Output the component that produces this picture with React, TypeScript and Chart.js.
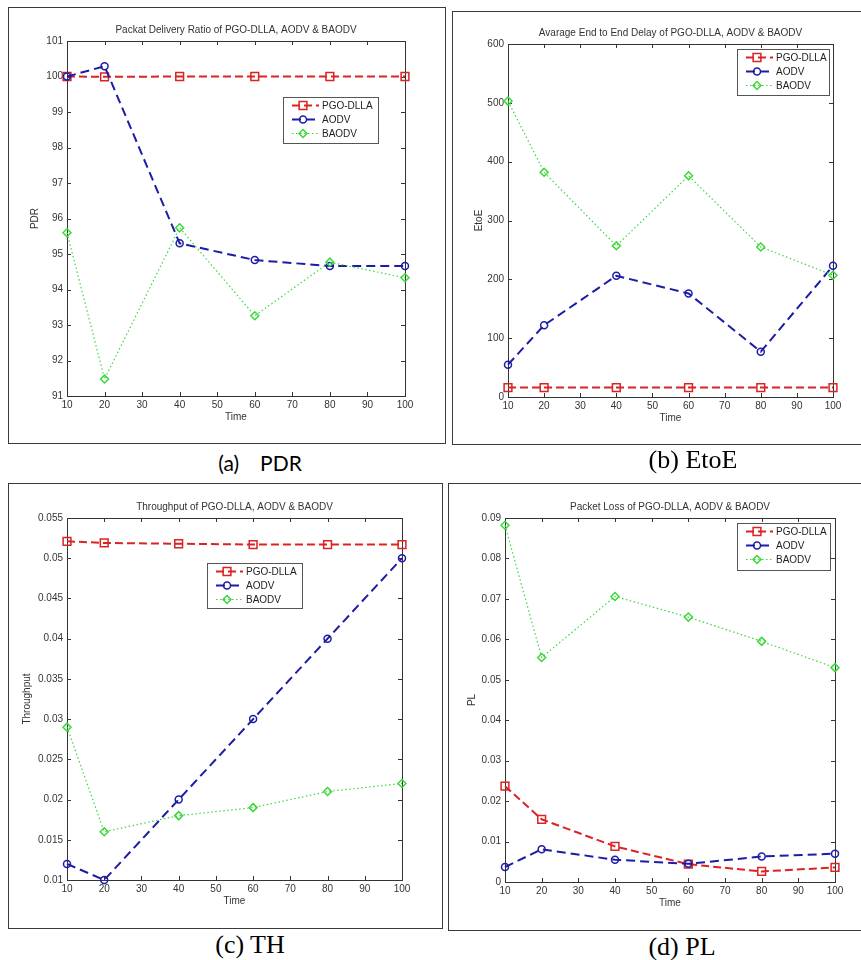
import React, { useEffect, useRef } from "react";
import { Chart, registerables } from "chart.js";

Chart.register(...registerables);

// ---------- data ----------
const timeValues = [10, 20, 40, 60, 80, 100];
const seriesNames = ["PGO-DLLA", "AODV", "BAODV"];

const pdrPGO = [100, 99.99, 100, 100, 100, 100];
const pdrAODV = [100, 100.29, 95.3, 94.83, 94.66, 94.66];
const pdrBAODV = [95.6, 91.48, 95.74, 93.26, 94.77, 94.33];

const etoePGO = [16, 16, 16, 16, 16, 16];
const etoeAODV = [55, 122, 206, 176, 77, 223];
const etoeBAODV = [503, 382, 257, 376, 255, 207];

const thPGO = [0.0521, 0.0519, 0.0518, 0.0517, 0.0517, 0.0517];
const thAODV = [0.012, 0.01, 0.02, 0.03, 0.04, 0.05];
const thBAODV = [0.029, 0.016, 0.018, 0.019, 0.021, 0.022];

const plPGO = [0.0237, 0.0155, 0.0088, 0.0044, 0.0026, 0.0036];
const plAODV = [0.0037, 0.0081, 0.0055, 0.0045, 0.0063, 0.007];
const plBAODV = [0.0882, 0.0555, 0.0706, 0.0655, 0.0595, 0.053];

// ---------- styles ----------
const RED = "#dc2222";
const BLUE = "#1c1ca6";
const GREEN = "#3ad83a";
const AXIS_FONT = "'Liberation Sans', Arial, sans-serif";

type Rect = { l: number; t: number; r: number; b: number };
type PanelSpec = {
  id: string;
  box: Rect;
  plot: Rect;
  legend: Rect;
  title: string;
  yLabel: string;
  yLabelOffset: number;
  yMin: number;
  yMax: number;
  yStep: number;
  series: number[][];
  caption: string;
  captionX: number;
  captionY: number;
  captionFont: string;
  captionSize: number;
};

const panels: PanelSpec[] = [
  {
    id: "a",
    box: { l: 9, t: 8, r: 445, b: 443 },
    plot: { l: 67, t: 41, r: 405, b: 396 },
    legend: { l: 283, t: 97, r: 378, b: 143 },
    title: "Packat Delivery Ratio of PGO-DLLA, AODV & BAODV",
    yLabel: "PDR",
    yLabelOffset: 32,
    yMin: 91,
    yMax: 101,
    yStep: 1,
    series: [pdrPGO, pdrAODV, pdrBAODV],
    caption: "(a)",
    captionX: 260,
    captionY: 462,
    captionFont: "Lato, 'Open Sans', sans-serif",
    captionSize: 21,
  },
  {
    id: "b",
    box: { l: 453, t: 12, r: 864, b: 444 },
    plot: { l: 508, t: 44, r: 833, b: 397 },
    legend: { l: 737, t: 49, r: 829, b: 95 },
    title: "Avarage End to End Delay of PGO-DLLA, AODV & BAODV",
    yLabel: "EtoE",
    yLabelOffset: 29,
    yMin: 0,
    yMax: 600,
    yStep: 100,
    series: [etoePGO, etoeAODV, etoeBAODV],
    caption: "(b) EtoE",
    captionX: 693,
    captionY: 460,
    captionFont: "'Liberation Serif', 'Times New Roman', serif",
    captionSize: 26,
  },
  {
    id: "c",
    box: { l: 9, t: 484, r: 442, b: 928 },
    plot: { l: 67, t: 518, r: 402, b: 880 },
    legend: { l: 207, t: 563, r: 302, b: 608 },
    title: "Throughput of PGO-DLLA, AODV & BAODV",
    yLabel: "Throughput",
    yLabelOffset: 40,
    yMin: 0.01,
    yMax: 0.055,
    yStep: 0.005,
    series: [thPGO, thAODV, thBAODV],
    caption: "(c) TH",
    captionX: 250,
    captionY: 945,
    captionFont: "'Liberation Serif', 'Times New Roman', serif",
    captionSize: 26,
  },
  {
    id: "d",
    box: { l: 449, t: 484, r: 864, b: 930 },
    plot: { l: 505, t: 518, r: 835, b: 882 },
    legend: { l: 737, t: 523, r: 830, b: 570 },
    title: "Packet Loss of PGO-DLLA, AODV & BAODV",
    yLabel: "PL",
    yLabelOffset: 33,
    yMin: 0,
    yMax: 0.09,
    yStep: 0.01,
    series: [plPGO, plAODV, plBAODV],
    caption: "(d) PL",
    captionX: 682,
    captionY: 947,
    captionFont: "'Liberation Serif', 'Times New Roman', serif",
    captionSize: 26,
  },
];

const seriesStyles = [
  { color: RED, width: 2, dash: [8, 4], point: "rect", radius: 5.5, pw: 1.5, order: 3 },
  { color: BLUE, width: 2, dash: [9, 5], point: "circle", radius: 3.5, pw: 1.5, order: 2 },
  { color: GREEN, width: 1.2, dash: [1.5, 2.5], point: "rectRot", radius: 4, pw: 1.5, order: 1 },
];

const Y_AXIS_W = 50;
const X_AXIS_H = 30;

function drawMarker(ctx: CanvasRenderingContext2D, kind: string, x: number, y: number, r: number) {
  ctx.beginPath();
  if (kind === "rect") {
    const s = r * Math.SQRT1_2;
    ctx.rect(x - s, y - s, 2 * s, 2 * s);
  } else if (kind === "circle") {
    ctx.arc(x, y, r, 0, Math.PI * 2);
  } else {
    ctx.moveTo(x - r, y);
    ctx.lineTo(x, y - r);
    ctx.lineTo(x + r, y);
    ctx.lineTo(x, y + r);
    ctx.closePath();
  }
  ctx.stroke();
}

function fmt(v: number) {
  return String(+Number(v).toFixed(6));
}

function Panel({ spec }: { spec: PanelSpec }) {
  const ref = useRef<HTMLCanvasElement>(null);
  const w = spec.box.r - spec.box.l;
  const h = spec.box.b - spec.box.t;

  useEffect(() => {
    if (!ref.current) return;
    const padding = {
      left: spec.plot.l - spec.box.l - Y_AXIS_W,
      top: spec.plot.t - spec.box.t,
      right: spec.box.r - spec.plot.r,
      bottom: spec.box.b - spec.plot.b - X_AXIS_H,
    };

    const framePlugin = {
      id: "matlabFrame" + spec.id,
      beforeDatasetsDraw(chart: any) {
        const { ctx, chartArea: ca } = chart;
        const xs = chart.scales.x;
        const ys = chart.scales.y;
        ctx.save();
        ctx.strokeStyle = "#333";
        ctx.lineWidth = 1;
        ctx.setLineDash([]);
        ctx.strokeRect(Math.round(ca.left) + 0.5, Math.round(ca.top) + 0.5, Math.round(ca.right - ca.left), Math.round(ca.bottom - ca.top));
        const tl = 4;
        ctx.beginPath();
        xs.ticks.forEach((t: any) => {
          const px = Math.round(xs.getPixelForValue(t.value)) + 0.5;
          ctx.moveTo(px, ca.bottom);
          ctx.lineTo(px, ca.bottom - tl);
          ctx.moveTo(px, ca.top);
          ctx.lineTo(px, ca.top + tl);
        });
        ys.ticks.forEach((t: any) => {
          const py = Math.round(ys.getPixelForValue(t.value)) + 0.5;
          ctx.moveTo(ca.left, py);
          ctx.lineTo(ca.left + tl, py);
          ctx.moveTo(ca.right, py);
          ctx.lineTo(ca.right - tl, py);
        });
        ctx.stroke();

        ctx.fillStyle = "#333";
        ctx.font = `10px ${AXIS_FONT}`;
        ctx.textAlign = "center";
        ctx.textBaseline = "middle";
        ctx.fillText(spec.title, (ca.left + ca.right) / 2, ca.top - 11);
        ctx.fillText("Time", (ca.left + ca.right) / 2, ca.bottom + 21);
        ctx.save();
        ctx.translate(ca.left - spec.yLabelOffset, (ca.top + ca.bottom) / 2);
        ctx.rotate(-Math.PI / 2);
        ctx.fillText(spec.yLabel, 0, 0);
        ctx.restore();
        ctx.restore();
      },
      afterDraw(chart: any) {
        const { ctx } = chart;
        const L = spec.legend;
        const lx = L.l - spec.box.l;
        const ly = L.t - spec.box.t;
        const lw = L.r - L.l;
        const lh = L.b - L.t;
        ctx.save();
        ctx.fillStyle = "#fff";
        ctx.fillRect(lx, ly, lw, lh);
        ctx.strokeStyle = "#555";
        ctx.lineWidth = 1;
        ctx.setLineDash([]);
        ctx.strokeRect(Math.round(lx) + 0.5, Math.round(ly) + 0.5, lw, lh);
        seriesNames.forEach((name, i) => {
          const st = seriesStyles[i];
          const y = ly + 8.5 + i * 14;
          ctx.strokeStyle = st.color;
          ctx.lineWidth = st.width;
          ctx.setLineDash(st.dash);
          ctx.beginPath();
          ctx.moveTo(lx + 9, y);
          ctx.lineTo(lx + 36, y);
          ctx.stroke();
          ctx.setLineDash([]);
          ctx.lineWidth = st.pw;
          drawMarker(ctx, st.point, lx + 20, y, st.radius);
          ctx.fillStyle = "#222";
          ctx.font = `10px ${AXIS_FONT}`;
          ctx.textAlign = "left";
          ctx.textBaseline = "middle";
          ctx.fillText(name, lx + 39, y + 0.5);
        });
        ctx.restore();
      },
    };

    const chart = new Chart(ref.current, {
      type: "line",
      data: {
        datasets: spec.series.map((vals, i) => {
          const st = seriesStyles[i];
          return {
            label: seriesNames[i],
            data: timeValues.map((x, j) => ({ x, y: vals[j] })),
            borderColor: st.color,
            borderWidth: st.width,
            borderDash: st.dash,
            pointStyle: st.point as any,
            pointRadius: st.radius,
            pointBorderWidth: st.pw,
            pointBorderColor: st.color,
            pointBackgroundColor: "rgba(0,0,0,0)",
            fill: false,
            tension: 0,
            clip: false as any,
            order: st.order,
          };
        }),
      },
      options: {
        animation: false,
        responsive: true,
        maintainAspectRatio: false,
        events: [],
        layout: { padding },
        plugins: {
          legend: { display: false },
          tooltip: { enabled: false },
          title: { display: false },
        },
        scales: {
          x: {
            type: "linear",
            min: 10,
            max: 100,
            grid: { display: false, drawTicks: false },
            border: { display: false },
            ticks: {
              stepSize: 10,
              color: "#333",
              padding: 3,
              maxRotation: 0,
              font: { size: 10, family: AXIS_FONT },
              callback: (v: any) => fmt(v),
            },
            afterFit: (s: any) => {
              s.height = X_AXIS_H;
            },
          },
          y: {
            type: "linear",
            min: spec.yMin,
            max: spec.yMax,
            grid: { display: false, drawTicks: false },
            border: { display: false },
            ticks: {
              stepSize: spec.yStep,
              color: "#333",
              padding: 4,
              font: { size: 10, family: AXIS_FONT },
              callback: (v: any) => fmt(v),
            },
            afterFit: (s: any) => {
              s.width = Y_AXIS_W;
            },
          },
        },
      },
      plugins: [framePlugin],
    } as any);
    return () => chart.destroy();
  }, [spec]);

  return (
    <>
      <div style={{ position: "absolute", left: spec.box.l, top: spec.box.t, width: w, height: h }}>
        <canvas ref={ref} />
      </div>
      <div
        style={{
          position: "absolute",
          left: spec.box.l - 1,
          top: spec.box.t - 1,
          width: w,
          height: h,
          border: "1.5px solid #3a3a3a",
          pointerEvents: "none",
        }}
      />
      <div
        style={{
          position: "absolute",
          left: spec.captionX,
          top: spec.captionY,
          transform: "translate(-50%, -50%)",
          fontFamily: spec.captionFont,
          fontSize: spec.captionSize,
          lineHeight: 1,
          whiteSpace: "nowrap",
          color: "#000",
        }}
      >
        {spec.id === "a" ? (
          <>
            <span>(a)</span>
            <span style={{ marginLeft: 21 }}>PDR</span>
          </>
        ) : (
          spec.caption
        )}
      </div>
    </>
  );
}

export default function App() {
  return (
    <div
      style={{
        position: "absolute",
        left: 0,
        top: 0,
        width: 861,
        height: 960,
        overflow: "hidden",
        background: "#fff",
      }}
    >
      {panels.map((p) => (
        <Panel key={p.id} spec={p} />
      ))}
    </div>
  );
}
